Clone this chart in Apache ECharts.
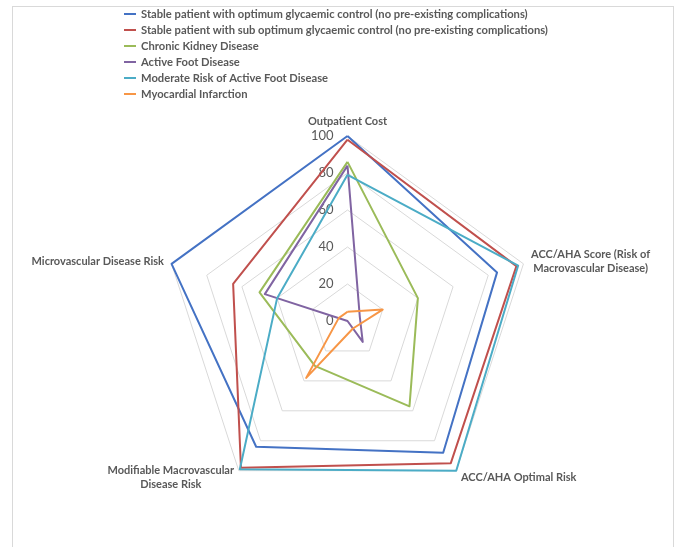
<!DOCTYPE html>
<html>
<head>
<meta charset="utf-8">
<script src="https://cdn.jsdelivr.net/npm/echarts@6/dist/echarts.min.js"></script>
<style>
  html, body { margin: 0; padding: 0; background: #ffffff; }
  #frame { position: absolute; left: 12px; top: 6px; width: 662px; height: 560px; border: 1px solid #D9D9D9; box-sizing: border-box; }
  #chart { position: absolute; left: 0; top: 0; width: 677px; height: 547px; }
</style>
</head>
<body>
<div id="frame"></div>
<div id="chart"></div>
<script>
// Axes listed clockwise from the top, as in the picture
const categories = [
  'Outpatient Cost',
  'ACC/AHA Score (Risk of\nMacrovascular Disease)',
  'ACC/AHA Optimal Risk',
  'Modifiable Macrovascular\nDisease Risk',
  'Microvascular Disease Risk'
];
const radialTicks = [0, 20, 40, 60, 80, 100];

const seriesNames = [
  'Stable patient with optimum glycaemic control (no pre-existing complications)',
  'Stable patient with sub optimum glycaemic control (no pre-existing complications)',
  'Chronic Kidney Disease',
  'Active Foot Disease',
  'Moderate Risk of Active Foot Disease',
  'Myocardial Infarction'
];
const optimumControl    = [100, 85, 88, 84, 100];
const subOptimumControl = [98, 96, 95, 98, 65];
const chronicKidney     = [86, 40, 57, 30, 50];
const activeFoot        = [84, 7, 14, 0, 47];
const moderateFootRisk  = [79, 97, 100, 99, 40];
const myocardialInfarct = [5, 20, 5, 38, 5];
const seriesColors = ['#4472C4', '#C0504D', '#9BBB59', '#8064A2', '#4BACC6', '#F79646'];

const allValues = [optimumControl, subOptimumControl, chronicKidney, activeFoot, moderateFootRisk, myocardialInfarct];

// ECharts radar places indicators counter-clockwise; reorder so they run clockwise
const order = [0, 4, 3, 2, 1];
const maxVal = radialTicks[radialTicks.length - 1];

const indicator = order.map(function (i, k) {
  const ind = { name: categories[i], max: maxVal, min: radialTicks[0] };
  if (k === 0) {
    ind.axisLabel = {
      show: true, color: '#595959', fontSize: 13, fontFamily: 'Lato', margin: 14,
      showMinLabel: true, showMaxLabel: true
    };
  }
  return ind;
});

const nameFont = { color: '#595959', fontFamily: 'Lato', fontWeight: 'bold', fontSize: 11, lineHeight: 14 };

const chart = echarts.init(document.getElementById('chart'), null, { renderer: 'canvas' });
chart.setOption({
  animation: false,
  backgroundColor: 'transparent',
  color: seriesColors,
  textStyle: { fontFamily: 'Lato' },
  legend: {
    orient: 'vertical',
    left: 124,
    top: 8,
    padding: 0,
    itemWidth: 12,
    itemHeight: 2,
    itemGap: 4,
    icon: 'rect',
    data: seriesNames,
    textStyle: { color: '#595959', fontFamily: 'Lato', fontWeight: 'bold', fontSize: 11.2, lineHeight: 12 }
  },
  radar: {
    center: [347.5, 321],
    radius: 185,
    startAngle: 90,
    splitNumber: radialTicks.length - 1,
    nameGap: 8,
    indicator: indicator,
    axisName: Object.assign({
      formatter: function (name) {
        if (name.indexOf('\n') < 0) return name;
        return name.split('\n').map(function (s) { return '{c|' + s + '}'; }).join('\n');
      },
      rich: { c: Object.assign({ align: 'center' }, nameFont) }
    }, nameFont),
    splitLine: { lineStyle: { color: '#D9D9D9', width: 1 } },
    splitArea: { show: false },
    axisLine: { show: false },
    axisTick: { show: false },
    axisLabel: { show: false }
  },
  series: [{
    type: 'radar',
    symbol: 'none',
    data: allValues.map(function (vals, s) {
      return {
        name: seriesNames[s],
        value: order.map(function (i) { return vals[i]; }),
        itemStyle: { color: seriesColors[s] },
        lineStyle: { color: seriesColors[s], width: 2 }
      };
    })
  }]
});
</script>
</body>
</html>
